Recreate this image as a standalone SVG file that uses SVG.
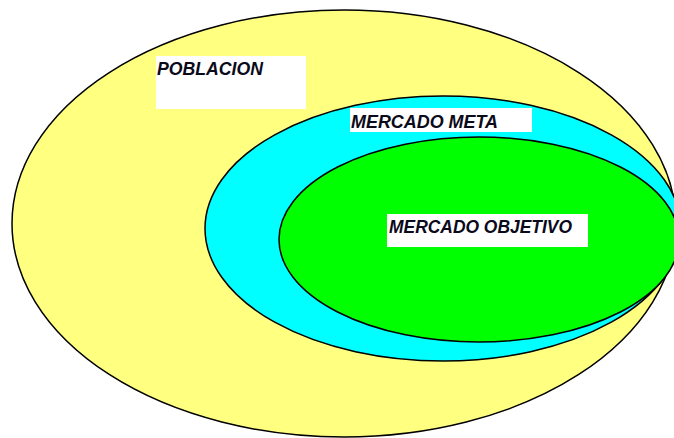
<svg xmlns="http://www.w3.org/2000/svg" width="674" height="438" viewBox="0 0 674 438">
<style>
.sh{stroke:#000;stroke-width:1.5}
.lb{fill:#fff}
.tx{font-family:"Liberation Sans",Arial,sans-serif;font-weight:bold;font-style:italic;fill:#0a0a1a}
</style>
<rect width="674" height="438" fill="#fff"/>
<g id="poblacion">
<ellipse class="sh" cx="344" cy="223.5" rx="332" ry="213.5" fill="#ffff80"/>
<rect class="lb" x="156" y="56" width="150" height="53"/>
<text class="tx" x="157" y="75" font-size="18" textLength="106" lengthAdjust="spacingAndGlyphs">POBLACION</text>
</g>
<g id="mercado-meta">
<ellipse class="sh" cx="443" cy="228.5" rx="238" ry="132.5" fill="#00ffff"/>
<rect class="lb" x="350" y="108" width="182" height="24"/>
<text class="tx" x="351" y="128" font-size="18" textLength="147" lengthAdjust="spacingAndGlyphs">MERCADO META</text>
</g>
<g id="mercado-objetivo">
<ellipse class="sh" cx="479" cy="239.5" rx="200" ry="102.5" fill="#00ff00"/>
<rect class="lb" x="387" y="214" width="201" height="33"/>
<text class="tx" x="389" y="233" font-size="19" textLength="183" lengthAdjust="spacingAndGlyphs">MERCADO OBJETIVO</text>
</g>
<g id="connectors"></g>
</svg>
